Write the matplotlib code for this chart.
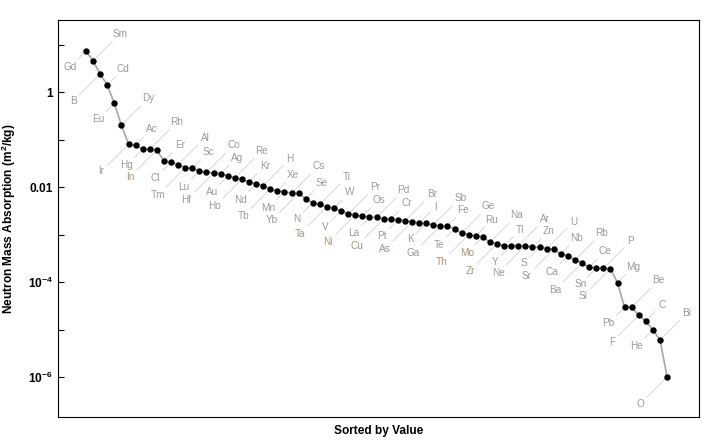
import numpy as np
import matplotlib.pyplot as plt
from matplotlib.ticker import FixedLocator, NullFormatter

plt.rcParams["font.family"] = ["Liberation Sans", "DejaVu Sans"]
plt.rcParams["mathtext.fontset"] = "custom"
plt.rcParams["mathtext.rm"] = "Liberation Sans"
plt.rcParams["mathtext.bf"] = "Liberation Sans:bold"

# elements in sorted order (largest absorption first)
elements = [
    "Gd", "Sm", "B", "Cd", "Eu", "Dy", "Ir", "Ac", "Hg", "Rh",
    "In", "Er", "Cl", "Al", "Tm", "Sc", "Lu", "Co", "Hf", "Ag",
    "Au", "Re", "Ho", "Kr", "Nd", "H", "Tb", "Xe", "Mn", "Cs",
    "Yb", "Se", "N", "Ti", "Ta", "W", "V", "Pr", "Ni", "Os",
    "La", "Pd", "Cu", "Cr", "Pt", "Br", "As", "I", "K", "Sb",
    "Ga", "Fe", "Te", "Ge", "Th", "Ru", "Mo", "Na", "Zr", "Tl",
    "Y", "Ar", "Ne", "Zn", "S", "U", "Sr", "Nb", "Ca", "Rb",
    "Ba", "Ce", "Sn", "P", "Si", "Mg", "Pb", "Be", "F", "C",
    "He", "Bi", "O",
]

# neutron mass absorption, m^2/kg
values = [
    7.4, 4.6, 2.43, 1.43, 0.586, 0.202, 0.0802, 0.0764, 0.0630, 0.0630,
    0.0608, 0.0356, 0.0335, 0.0298, 0.0258, 0.0250, 0.0219, 0.0206, 0.0199, 0.0193,
    0.0172, 0.0158, 0.0147, 0.0129, 0.0117, 0.0108, 0.00916, 0.00843, 0.00804, 0.00743,
    0.00743, 0.00564, 0.00471, 0.00437, 0.00388, 0.00359, 0.00319, 0.00272, 0.00259, 0.00244,
    0.00232, 0.00232, 0.00214, 0.00210, 0.00204, 0.00197, 0.00188, 0.00173, 0.00173, 0.00160,
    0.00152, 0.00152, 0.00132, 0.00107, 0.00100, 0.000938, 0.000906, 0.000690, 0.000644, 0.000585,
    0.000585, 0.000585, 0.000585, 0.000541, 0.000541, 0.000506, 0.000491, 0.000391, 0.000360, 0.000292,
    0.000256, 0.000205, 0.000198, 0.000195, 0.000191, 9.7e-5, 2.94e-5, 2.94e-5, 2.0e-5, 1.51e-5,
    9.8e-6, 6.0e-6, 1.0e-6,
]

# labels that show up in a warmer tan in the original
tan_labels = ["In", "Ta", "Ni", "Cu", "As", "Th", "Mo", "Zr"]

major_ticks = [1, 1e-2, 1e-4, 1e-6]
major_labels = ["1", "0.01", r"$\mathbf{10^{-4}}$", r"$\mathbf{10^{-6}}$"]
minor_ticks = [10, 0.1, 1e-3, 1e-5]

LABEL_GREY = "#9a9a9a"
LABEL_TAN = "#a8937c"

fig = plt.figure(figsize=(7.2, 4.4), dpi=100)
ax = fig.add_axes([58 / 720, 23 / 440, 641 / 720, 397 / 440])

x = np.arange(1, len(values) + 1)
ax.plot(x, values, color="#a6a6a6", lw=1.2, zorder=2)
ax.plot(x, values, "o", color="black", ms=3.6, zorder=3)

# callouts alternate down-left / up-right, staggered near and far
offsets = {0: -16, 1: 27, 2: -27, 3: 16}
for i, (name, v) in enumerate(zip(elements, values)):
    d = offsets[i % 4]
    col = LABEL_TAN if name in tan_labels else LABEL_GREY
    ax.annotate(
        name, xy=(x[i], v), xytext=(d, d), textcoords="offset pixels",
        ha="center", va="center", fontsize=7.2, color=col,
        arrowprops=dict(arrowstyle="-", color="#d2d2d2", lw=0.6,
                        shrinkA=0, shrinkB=2.5),
        zorder=1,
    )

ax.set_yscale("log")
ax.set_xlim(-2.95, 87.5)
ax.set_ylim(10 ** -6.843, 10 ** 1.524)

ax.yaxis.set_major_locator(FixedLocator(major_ticks))
ax.set_yticklabels(major_labels)
ax.yaxis.set_minor_locator(FixedLocator(minor_ticks))
ax.yaxis.set_minor_formatter(NullFormatter())
ax.set_xticks([])
ax.tick_params(axis="y", which="both", direction="in", right=False)
ax.tick_params(axis="y", which="major", length=4.5, width=0.8, labelsize=8.6, pad=4)
ax.tick_params(axis="y", which="minor", length=4, width=0.8)
for lab in ax.get_yticklabels():
    lab.set_fontweight("bold")

for sp in ax.spines.values():
    sp.set_linewidth(0.8)

ax.set_ylabel(r"Neutron Mass Absorption (m$^\mathbf{2}$/kg)", fontsize=8.6,
              fontweight="bold", labelpad=7)
ax.set_xlabel("Sorted by Value", fontsize=8.6, fontweight="bold", labelpad=6)

fig.savefig("out.png", dpi=100)
